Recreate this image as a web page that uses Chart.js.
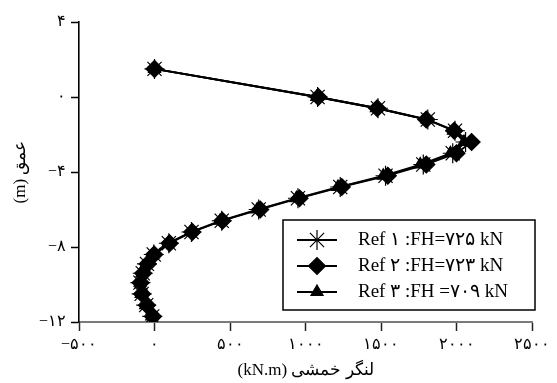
<!DOCTYPE html>
<html>
<head>
<meta charset="utf-8">
<script src="https://cdn.jsdelivr.net/npm/chart.js@4"></script>
<style>
    html, body { margin: 0; padding: 0; background: #fff; }
    #wrap { width: 557px; height: 383px; }
</style>
</head>
<body>
<div id="wrap"><canvas id="c" width="557" height="383"></canvas></div>
<script>
// depth (m) and bending moment (kN.m)
const depth = [1.5, 0, -0.6, -1.2, -1.8, -2.4, -3.0, -3.6, -4.2, -4.8, -5.4, -6.0, -6.6, -7.2, -7.8, -8.4, -8.9, -9.4, -9.9, -10.5, -11.1, -11.7];
const ref1 = [0, 1080, 1480, 1810, 1990, 2060, 1975, 1780, 1530, 1230, 950, 690, 445, 245, 95, -5, -50, -78, -93, -85, -55, -15];
const ref2 = [0, 1085, 1475, 1800, 1985, 2100, 2000, 1800, 1545, 1240, 960, 700, 450, 250, 100, -2, -45, -75, -92, -82, -50, -10];
const ref3 = [0, 1075, 1470, 1805, 1980, 2050, 1960, 1760, 1515, 1215, 940, 680, 435, 240, 90, -8, -55, -82, -95, -88, -58, -18];
const labels = ['Ref ۱ :FH=۷۲۵ kN', 'Ref ۲ :FH=۷۲۳ kN', 'Ref ۳ :FH =۷۰۹ kN'];

const FONT = '"Liberation Serif", "DejaVu Serif", serif';
const faDigits = '۰۱۲۳۴۵۶۷۸۹';
const fa = (v) => {
    const s = String(Math.abs(v)).replace(/\d/g, (d) => faDigits[d]);
    return v < 0 ? '−' + s : s;
};
const pts = (xs) => xs.map((x, i) => ({ x, y: depth[i] }));

const series = [
    { label: labels[0], data: pts(ref1), pointStyle: 'star', pointRadius: 10, order: 0 },
    { label: labels[1], data: pts(ref2), pointStyle: 'rectRot', pointRadius: 8.5, order: 1 },
    { label: labels[2], data: pts(ref3), pointStyle: 'triangle', pointRadius: 7, order: 2 },
].map((d) => ({
    ...d,
    showLine: true,
    borderColor: '#000',
    backgroundColor: '#000',
    borderWidth: 1.8,
    pointBorderWidth: 1.2,
    pointBorderColor: '#000',
    pointBackgroundColor: '#000',
}));

// boxed legend drawn inside the plot area
const boxLegend = {
    id: 'boxLegend',
    afterDraw(chart) {
        const ctx = chart.ctx;
        const x0 = 283, y0 = 220, w = 252, h = 90;
        ctx.save();
        ctx.fillStyle = '#fff';
        ctx.fillRect(x0, y0, w, h);
        ctx.strokeStyle = '#000';
        ctx.lineWidth = 1.5;
        ctx.strokeRect(x0, y0, w, h);
        ctx.font = '19px ' + FONT;
        ctx.textBaseline = 'middle';
        chart.data.datasets.forEach((ds, i) => {
            const y = y0 + 20 + i * 26;
            ctx.strokeStyle = '#000';
            ctx.lineWidth = 2;
            ctx.beginPath();
            ctx.moveTo(x0 + 14, y);
            ctx.lineTo(x0 + 54, y);
            ctx.stroke();
            ctx.fillStyle = '#000';
            ctx.lineWidth = 1.2;
            Chart.helpers.drawPoint(ctx, { pointStyle: ds.pointStyle, radius: ds.pointRadius, borderWidth: 1.2 }, x0 + 34, y);
            ctx.fillStyle = '#000';
            ctx.fillText(ds.label, x0 + 75, y);
        });
        ctx.restore();
    }
};

new Chart(document.getElementById('c'), {
    type: 'scatter',
    data: { datasets: series },
    options: {
        responsive: false,
        animation: false,
        layout: { padding: { top: 22, right: 25, left: 0, bottom: 0 } },
        plugins: { legend: { display: false }, tooltip: { enabled: false } },
        scales: {
            x: {
                min: -500, max: 2500,
                afterFit: (s) => { s.height = 61; },
                border: { color: '#7a7a7a', width: 2 },
                grid: { drawOnChartArea: false, tickLength: 9, color: '#222', tickWidth: 1.5 },
                ticks: { stepSize: 500, padding: 4, color: '#000', font: { family: FONT, size: 16 }, callback: (v) => fa(v) },
                title: { display: true, text: '(kN.m) لنگر خمشی', color: '#000', font: { family: FONT, size: 17 }, padding: { top: 0, bottom: 2 } }
            },
            y: {
                min: -12, max: 4,
                afterFit: (s) => { s.width = 79; },
                border: { color: '#000', width: 1.6 },
                grid: { drawOnChartArea: false, tickLength: 8, color: '#000', tickWidth: 1.5 },
                ticks: { stepSize: 4, padding: 5, color: '#000', font: { family: FONT, size: 16 }, callback: (v) => fa(v) },
                title: { display: true, text: '(m) عمق', color: '#000', font: { family: FONT, size: 17 }, padding: { top: 10, bottom: 0 } }
            }
        }
    },
    plugins: [boxLegend]
});
</script>
</body>
</html>
